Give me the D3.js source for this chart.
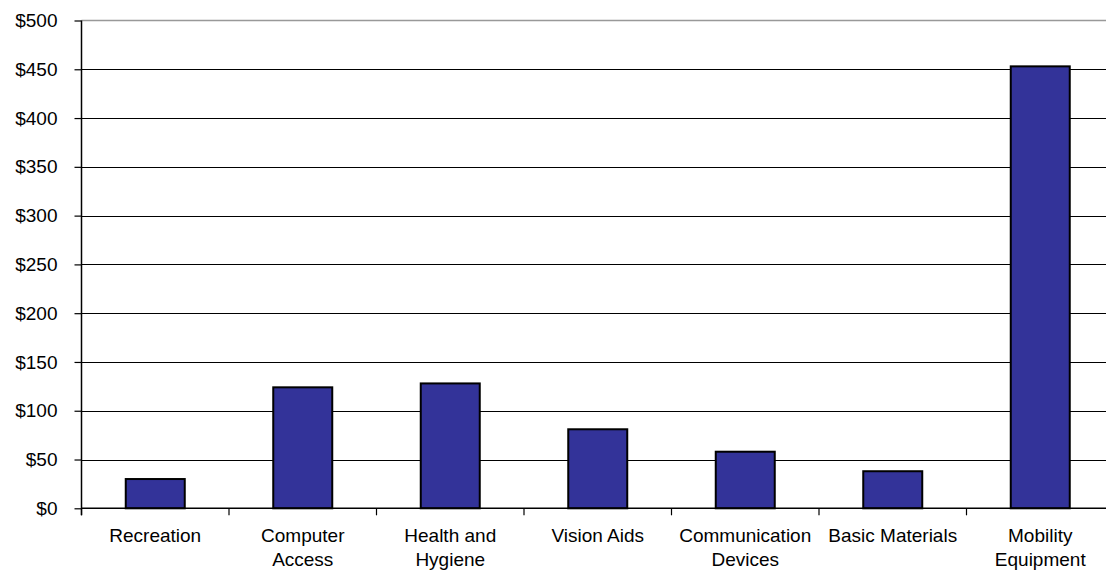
<!DOCTYPE html>
<html><head><meta charset="utf-8">
<script src="https://cdn.jsdelivr.net/npm/d3@7"></script>
<style>body{margin:0;background:#fff;overflow:hidden}svg{display:block}text{font-family:"Liberation Sans",Arial,sans-serif;fill:#000}</style>
</head><body>
<script>
const categories = [["Recreation"],["Computer","Access"],["Health and","Hygiene"],["Vision Aids"],["Communication","Devices"],["Basic Materials"],["Mobility","Equipment"]];
const values = [30,124,128,81,58,38,453];
const yTicks = [0,50,100,150,200,250,300,350,400,450,500];

const W=1106,H=571;
const mLeft=81.5, mRight=1114, mTop=20.5, mBottom=508.3;
const svg=d3.select("body").append("svg").attr("width",W).attr("height",H);
const x=d3.scaleBand().domain(d3.range(categories.length)).range([mLeft,mRight]).paddingInner(0.6).paddingOuter(0.3);
const y=d3.scaleLinear().domain([0,500]).range([mBottom,mTop]);

// gridlines
svg.append("g").selectAll("line").data(yTicks.filter(d=>d>0&&d<500)).join("line")
 .attr("x1",mLeft).attr("x2",mRight).attr("y1",d=>Math.round(y(d))+0.5).attr("y2",d=>Math.round(y(d))+0.5)
 .attr("stroke","#000").attr("stroke-width",1);
// top border
svg.append("line").attr("x1",mLeft).attr("x2",mRight).attr("y1",y(500)).attr("y2",y(500)).attr("stroke","#999").attr("stroke-width",1.5);

// bars
svg.append("g").selectAll("rect").data(values).join("rect")
 .attr("x",(d,i)=>x(i)).attr("width",x.bandwidth())
 .attr("y",d=>y(d)).attr("height",d=>y(0)-y(d))
 .attr("fill","#333399").attr("stroke","#000").attr("stroke-width",2);

// y axis
const ya=svg.append("g").attr("transform",`translate(${mLeft},0)`)
 .call(d3.axisLeft(y).tickValues(yTicks).tickFormat(d=>"$"+d).tickSize(7).tickPadding(17));
ya.select(".domain").attr("stroke","#000").attr("stroke-width",1.5).attr("d",`M0,${mTop}V${mBottom+7}`);
ya.selectAll(".tick line").attr("stroke","#000").attr("stroke-width",1.2);
ya.selectAll("text").style("font-size","19px").style("font-family","'Liberation Sans',Arial,sans-serif").attr("fill","#000");

// x axis
const boundaries=d3.range(categories.length+1).map(i=>mLeft+i*(mRight-mLeft)/categories.length);
svg.append("line").attr("x1",mLeft).attr("x2",mRight).attr("y1",mBottom).attr("y2",mBottom).attr("stroke","#000").attr("stroke-width",1.5);
svg.append("g").selectAll("line").data(boundaries).join("line")
 .attr("x1",d=>d).attr("x2",d=>d).attr("y1",mBottom).attr("y2",mBottom+7).attr("stroke","#000").attr("stroke-width",1.2);

const lab=svg.append("g").selectAll("text").data(categories).join("text")
 .attr("text-anchor","middle").style("font-size","19px")
 .attr("x",(d,i)=>x(i)+x.bandwidth()/2).attr("y",542);
lab.selectAll("tspan").data(d=>d).join("tspan")
 .attr("x",function(){return this.parentNode.getAttribute("x");})
 .attr("dy",(d,i)=>i===0?0:23.7).text(d=>d);
</script>
</body></html>
